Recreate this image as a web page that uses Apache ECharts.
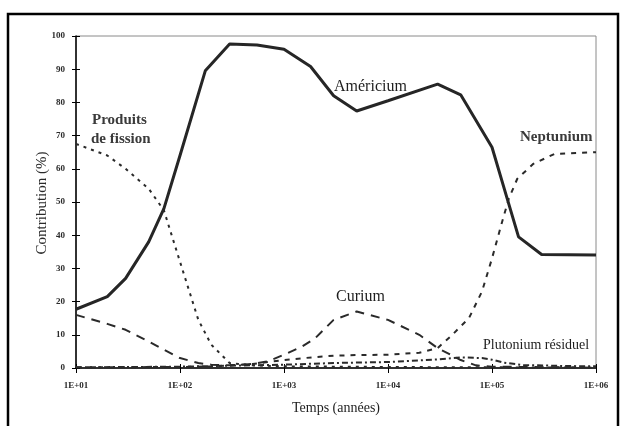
<!DOCTYPE html>
<html>
<head>
<meta charset="utf-8">
<script src="https://cdn.jsdelivr.net/npm/echarts@6/dist/echarts.min.js"></script>
<style>
  html, body { margin: 0; padding: 0; background: #fff; }
  #chart { width: 623px; height: 426px; }
</style>
</head>
<body>
<div id="chart"></div>
<script>
// Time after separation, in years (log scale), and relative contribution (%)
var yearsAm = [10, 20, 30, 50, 70, 100, 175, 300, 550, 1000, 1800, 3000, 5000, 10000, 30000, 50000, 100000, 140000, 180000, 300000, 1000000];
var americium = [17.7, 21.5, 27, 38, 48, 64, 89.5, 97.6, 97.3, 96, 90.8, 82, 77.4, 80.5, 85.5, 82.3, 66.5, 51, 39.5, 34.2, 34];

var yearsPf = [10, 20, 30, 50, 70, 100, 150, 200, 300, 500, 1000, 10000, 100000, 1000000];
var produitsFission = [67.5, 64, 60, 54, 47.5, 32, 14.5, 7, 1.5, 0.8, 0.5, 0.3, 0.2, 0.1];

var yearsCm = [10, 20, 30, 50, 70, 100, 150, 200, 300, 500, 700, 1000, 1500, 2000, 3000, 5000, 10000, 20000, 30000, 50000, 70000, 100000, 1000000];
var curium = [16, 13.3, 11.5, 8, 5.5, 3, 1.5, 1.0, 0.8, 1.2, 2, 4, 6.5, 9, 14.5, 17, 14.5, 10, 6, 2.4, 0.8, 0.4, 0.1];

var yearsNp = [10, 100, 200, 500, 1000, 2000, 3000, 5000, 10000, 20000, 30000, 40000, 60000, 80000, 100000, 125000, 145000, 175000, 250000, 400000, 1000000];
var neptunium = [0.2, 0.3, 0.5, 1.2, 2.4, 3.3, 3.7, 3.9, 4.0, 4.6, 6, 9.5, 15, 23, 33, 44, 51, 57, 61.5, 64.5, 65];

var yearsPu = [10, 100, 1000, 3000, 10000, 30000, 50000, 80000, 100000, 130000, 200000, 500000, 1000000];
var plutonium = [0.2, 0.4, 1.0, 1.5, 1.8, 2.6, 3.2, 3.0, 2.5, 1.6, 0.9, 0.6, 0.5];

var yTicks = [0, 10, 20, 30, 40, 50, 60, 70, 80, 90, 100];

function pairs(xs, ys) {
  return xs.map(function (x, i) { return [x, ys[i]]; });
}

function expLabel(v) {
  var e = Math.round(Math.log10(v));
  return '1E+' + (e < 10 ? '0' : '') + e;
}

var SERIF = '"Liberation Serif", "DejaVu Serif", serif';
var INK = '#1e1e1e';

var chart = echarts.init(document.getElementById('chart'), null, { renderer: 'canvas' });

function lineSeries(name, data, width, dash, color) {
  return {
    name: name,
    type: 'line',
    data: data,
    xAxisIndex: 0,
    yAxisIndex: 0,
    showSymbol: false,
    symbol: 'none',
    smooth: false,
    animation: false,
    lineStyle: { color: color || INK, width: width, type: dash }
  };
}

chart.setOption({
  animation: false,
  backgroundColor: '#fff',
  grid: {
    left: 76, right: 27, top: 36, bottom: 58,
    show: true, borderColor: '#8a8a8a', borderWidth: 1
  },
  xAxis: [{
    type: 'log', logBase: 10, min: 10, max: 1000000,
    axisLine: { show: true, lineStyle: { color: '#000', width: 1.5 } },
    axisTick: { show: true, length: 5, lineStyle: { color: '#000', width: 1 } },
    splitLine: { show: false },
    minorTick: { show: false },
    axisLabel: {
      formatter: expLabel, margin: 13,
      fontFamily: SERIF, fontSize: 9, fontWeight: 'bold', color: '#2a2a2a'
    }
  }, {
    type: 'log', logBase: 10, min: 10, max: 1000000, position: 'bottom',
    axisLine: { show: false },
    axisTick: { show: true, inside: true, length: 4, lineStyle: { color: '#000', width: 1 } },
    axisLabel: { show: false },
    splitLine: { show: false }
  }],
  yAxis: [{
    type: 'value', min: 0, max: 100, interval: 10,
    axisLine: { show: true, lineStyle: { color: '#000', width: 1.5 } },
    axisTick: { show: true, length: 4, lineStyle: { color: '#000', width: 1 } },
    splitLine: { show: false },
    axisLabel: {
      margin: 11,
      formatter: function (v) { return yTicks.indexOf(v) >= 0 ? String(v) : ''; },
      fontFamily: SERIF, fontSize: 9, fontWeight: 'bold', color: '#2a2a2a'
    }
  }, {
    type: 'value', min: 0, max: 100, interval: 10, position: 'left',
    axisLine: { show: false },
    axisTick: { show: true, inside: true, length: 4, lineStyle: { color: '#000', width: 1 } },
    axisLabel: { show: false },
    splitLine: { show: false }
  }],
  series: [
    lineSeries('Produits de fission', pairs(yearsPf, produitsFission), 2, [3, 5], '#2a2a2a'),
    lineSeries('Curium', pairs(yearsCm, curium), 2, [9, 7], '#2a2a2a'),
    lineSeries('Neptunium', pairs(yearsNp, neptunium), 2, [5, 6], '#2a2a2a'),
    lineSeries('Plutonium résiduel', pairs(yearsPu, plutonium), 2, [6, 3, 2, 3], '#2a2a2a'),
    lineSeries('Américium', pairs(yearsAm, americium), 3, 'solid', '#262626')
  ],
  graphic: [
    { type: 'rect', silent: true, z: 100,
      shape: { x: 8, y: 14, width: 610, height: 420 },
      style: { fill: 'none', stroke: '#000', lineWidth: 2.5 } },
    { type: 'text', z: 50, style: { x: 334, y: 87, text: 'Américium', font: '16px ' + SERIF, fill: INK, textVerticalAlign: 'middle' } },
    { type: 'text', z: 50, style: { x: 92, y: 120, text: 'Produits', font: 'bold 15px ' + SERIF, fill: '#3a3a3a', textVerticalAlign: 'middle' } },
    { type: 'text', z: 50, style: { x: 91, y: 139, text: 'de fission', font: 'bold 15px ' + SERIF, fill: '#3a3a3a', textVerticalAlign: 'middle' } },
    { type: 'text', z: 50, style: { x: 520, y: 137, text: 'Neptunium', font: 'bold 15px ' + SERIF, fill: '#3a3a3a', textVerticalAlign: 'middle' } },
    { type: 'text', z: 50, style: { x: 336, y: 297, text: 'Curium', font: '16px ' + SERIF, fill: INK, textVerticalAlign: 'middle' } },
    { type: 'text', z: 50, style: { x: 483, y: 345, text: 'Plutonium résiduel', font: '14px ' + SERIF, fill: INK, textVerticalAlign: 'middle' } },
    { type: 'text', z: 50, style: { x: 336, y: 408, text: 'Temps (années)', font: '14px ' + SERIF, fill: INK, textAlign: 'center', textVerticalAlign: 'middle' } },
    { type: 'text', z: 50, x: 42, y: 203, rotation: Math.PI / 2,
      style: { x: 0, y: 0, text: 'Contribution (%)', font: '15px ' + SERIF, fill: '#2a2a2a', textAlign: 'center', textVerticalAlign: 'middle' } }
  ]
});
</script>
</body>
</html>
